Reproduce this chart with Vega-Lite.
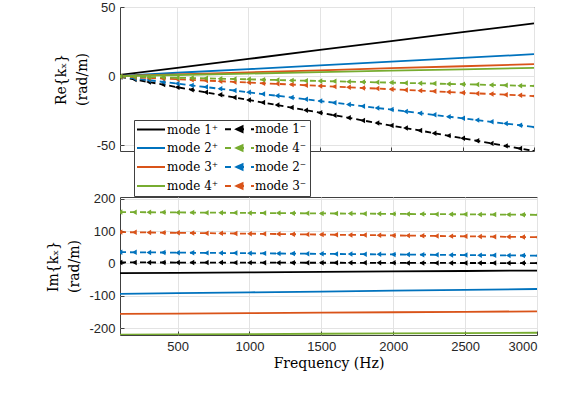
{
  "$schema": "https://vega.github.io/schema/vega-lite/v6.json",
  "autosize": {"type": "none"},
  "padding": {"left": 120, "top": 7, "right": 461, "bottom": 386},
  "bounds": "flush",
  "spacing": 46,
  "background": "white",
  "datasets": {
    "d": [
      {"f": 100, "s": "mode 1⁺", "re": 1.0, "im": -30.0},
      {"f": 500, "s": "mode 1⁺", "re": 6.1, "im": -29.0},
      {"f": 1000, "s": "mode 1⁺", "re": 12.5, "im": -27.6},
      {"f": 1500, "s": "mode 1⁺", "re": 19.0, "im": -26.2},
      {"f": 2000, "s": "mode 1⁺", "re": 25.4, "im": -24.8},
      {"f": 2500, "s": "mode 1⁺", "re": 31.8, "im": -23.4},
      {"f": 3000, "s": "mode 1⁺", "re": 38.2, "im": -22.0},
      {"f": 100, "s": "mode 2⁺", "re": 0.3, "im": -94.0},
      {"f": 500, "s": "mode 2⁺", "re": 2.5, "im": -91.9},
      {"f": 1000, "s": "mode 2⁺", "re": 5.1, "im": -89.3},
      {"f": 1500, "s": "mode 2⁺", "re": 7.8, "im": -86.8},
      {"f": 2000, "s": "mode 2⁺", "re": 10.5, "im": -84.2},
      {"f": 2500, "s": "mode 2⁺", "re": 13.2, "im": -81.6},
      {"f": 3000, "s": "mode 2⁺", "re": 15.9, "im": -79.0},
      {"f": 100, "s": "mode 3⁺", "re": 0.2, "im": -156.0},
      {"f": 500, "s": "mode 3⁺", "re": 1.4, "im": -154.9},
      {"f": 1000, "s": "mode 3⁺", "re": 2.8, "im": -153.5},
      {"f": 1500, "s": "mode 3⁺", "re": 4.3, "im": -152.1},
      {"f": 2000, "s": "mode 3⁺", "re": 5.8, "im": -150.8},
      {"f": 2500, "s": "mode 3⁺", "re": 7.2, "im": -149.4},
      {"f": 3000, "s": "mode 3⁺", "re": 8.7, "im": -148.0},
      {"f": 100, "s": "mode 4⁺", "re": 0.1, "im": -220.0},
      {"f": 500, "s": "mode 4⁺", "re": 0.9, "im": -219.2},
      {"f": 1000, "s": "mode 4⁺", "re": 1.9, "im": -218.1},
      {"f": 1500, "s": "mode 4⁺", "re": 2.9, "im": -217.1},
      {"f": 2000, "s": "mode 4⁺", "re": 4.0, "im": -216.1},
      {"f": 2500, "s": "mode 4⁺", "re": 5.0, "im": -215.0},
      {"f": 3000, "s": "mode 4⁺", "re": 6.0, "im": -214.0},

      {"f": 100, "s": "mode 1⁻", "re": -0.5, "im": 3.0},
      {"f": 200, "s": "mode 1⁻", "re": -2.3, "im": 2.9},
      {"f": 300, "s": "mode 1⁻", "re": -4.2, "im": 2.9},
      {"f": 400, "s": "mode 1⁻", "re": -6.0, "im": 2.8},
      {"f": 500, "s": "mode 1⁻", "re": -7.9, "im": 2.7},
      {"f": 600, "s": "mode 1⁻", "re": -9.7, "im": 2.7},
      {"f": 700, "s": "mode 1⁻", "re": -11.6, "im": 2.6},
      {"f": 800, "s": "mode 1⁻", "re": -13.4, "im": 2.5},
      {"f": 900, "s": "mode 1⁻", "re": -15.3, "im": 2.4},
      {"f": 1000, "s": "mode 1⁻", "re": -17.1, "im": 2.4},
      {"f": 1100, "s": "mode 1⁻", "re": -19.0, "im": 2.3},
      {"f": 1200, "s": "mode 1⁻", "re": -20.8, "im": 2.2},
      {"f": 1300, "s": "mode 1⁻", "re": -22.6, "im": 2.2},
      {"f": 1400, "s": "mode 1⁻", "re": -24.5, "im": 2.1},
      {"f": 1500, "s": "mode 1⁻", "re": -26.3, "im": 2.0},
      {"f": 1600, "s": "mode 1⁻", "re": -28.2, "im": 2.0},
      {"f": 1700, "s": "mode 1⁻", "re": -30.0, "im": 1.9},
      {"f": 1800, "s": "mode 1⁻", "re": -31.9, "im": 1.8},
      {"f": 1900, "s": "mode 1⁻", "re": -33.7, "im": 1.8},
      {"f": 2000, "s": "mode 1⁻", "re": -35.6, "im": 1.7},
      {"f": 2100, "s": "mode 1⁻", "re": -37.4, "im": 1.6},
      {"f": 2200, "s": "mode 1⁻", "re": -39.2, "im": 1.6},
      {"f": 2300, "s": "mode 1⁻", "re": -41.1, "im": 1.5},
      {"f": 2400, "s": "mode 1⁻", "re": -42.9, "im": 1.4},
      {"f": 2500, "s": "mode 1⁻", "re": -44.8, "im": 1.3},
      {"f": 2600, "s": "mode 1⁻", "re": -46.6, "im": 1.3},
      {"f": 2700, "s": "mode 1⁻", "re": -48.5, "im": 1.2},
      {"f": 2800, "s": "mode 1⁻", "re": -50.3, "im": 1.1},
      {"f": 2900, "s": "mode 1⁻", "re": -52.2, "im": 1.1},
      {"f": 3000, "s": "mode 1⁻", "re": -54.0, "im": 1.0},

      {"f": 100, "s": "mode 2⁻", "re": -0.3, "im": 34.7},
      {"f": 200, "s": "mode 2⁻", "re": -1.6, "im": 34.3},
      {"f": 300, "s": "mode 2⁻", "re": -2.8, "im": 34.0},
      {"f": 400, "s": "mode 2⁻", "re": -4.1, "im": 33.6},
      {"f": 500, "s": "mode 2⁻", "re": -5.3, "im": 33.2},
      {"f": 600, "s": "mode 2⁻", "re": -6.6, "im": 32.9},
      {"f": 700, "s": "mode 2⁻", "re": -7.8, "im": 32.5},
      {"f": 800, "s": "mode 2⁻", "re": -9.1, "im": 32.1},
      {"f": 900, "s": "mode 2⁻", "re": -10.3, "im": 31.8},
      {"f": 1000, "s": "mode 2⁻", "re": -11.6, "im": 31.4},
      {"f": 1100, "s": "mode 2⁻", "re": -12.9, "im": 31.0},
      {"f": 1200, "s": "mode 2⁻", "re": -14.1, "im": 30.6},
      {"f": 1300, "s": "mode 2⁻", "re": -15.4, "im": 30.3},
      {"f": 1400, "s": "mode 2⁻", "re": -16.6, "im": 29.9},
      {"f": 1500, "s": "mode 2⁻", "re": -17.9, "im": 29.5},
      {"f": 1600, "s": "mode 2⁻", "re": -19.1, "im": 29.2},
      {"f": 1700, "s": "mode 2⁻", "re": -20.4, "im": 28.8},
      {"f": 1800, "s": "mode 2⁻", "re": -21.6, "im": 28.4},
      {"f": 1900, "s": "mode 2⁻", "re": -22.9, "im": 28.1},
      {"f": 2000, "s": "mode 2⁻", "re": -24.1, "im": 27.7},
      {"f": 2100, "s": "mode 2⁻", "re": -25.4, "im": 27.3},
      {"f": 2200, "s": "mode 2⁻", "re": -26.7, "im": 27.0},
      {"f": 2300, "s": "mode 2⁻", "re": -27.9, "im": 26.6},
      {"f": 2400, "s": "mode 2⁻", "re": -29.2, "im": 26.2},
      {"f": 2500, "s": "mode 2⁻", "re": -30.4, "im": 25.8},
      {"f": 2600, "s": "mode 2⁻", "re": -31.7, "im": 25.5},
      {"f": 2700, "s": "mode 2⁻", "re": -32.9, "im": 25.1},
      {"f": 2800, "s": "mode 2⁻", "re": -34.2, "im": 24.7},
      {"f": 2900, "s": "mode 2⁻", "re": -35.4, "im": 24.4},
      {"f": 3000, "s": "mode 2⁻", "re": -36.7, "im": 24.0},

      {"f": 100, "s": "mode 3⁻", "re": -0.2, "im": 96.6},
      {"f": 200, "s": "mode 3⁻", "re": -0.7, "im": 96.1},
      {"f": 300, "s": "mode 3⁻", "re": -1.2, "im": 95.5},
      {"f": 400, "s": "mode 3⁻", "re": -1.7, "im": 95.0},
      {"f": 500, "s": "mode 3⁻", "re": -2.1, "im": 94.4},
      {"f": 600, "s": "mode 3⁻", "re": -2.6, "im": 93.9},
      {"f": 700, "s": "mode 3⁻", "re": -3.1, "im": 93.4},
      {"f": 800, "s": "mode 3⁻", "re": -3.6, "im": 92.8},
      {"f": 900, "s": "mode 3⁻", "re": -4.1, "im": 92.3},
      {"f": 1000, "s": "mode 3⁻", "re": -4.6, "im": 91.8},
      {"f": 1100, "s": "mode 3⁻", "re": -5.1, "im": 91.2},
      {"f": 1200, "s": "mode 3⁻", "re": -5.5, "im": 90.7},
      {"f": 1300, "s": "mode 3⁻", "re": -6.0, "im": 90.1},
      {"f": 1400, "s": "mode 3⁻", "re": -6.5, "im": 89.6},
      {"f": 1500, "s": "mode 3⁻", "re": -7.0, "im": 89.1},
      {"f": 1600, "s": "mode 3⁻", "re": -7.5, "im": 88.5},
      {"f": 1700, "s": "mode 3⁻", "re": -8.0, "im": 88.0},
      {"f": 1800, "s": "mode 3⁻", "re": -8.5, "im": 87.5},
      {"f": 1900, "s": "mode 3⁻", "re": -8.9, "im": 86.9},
      {"f": 2000, "s": "mode 3⁻", "re": -9.4, "im": 86.4},
      {"f": 2100, "s": "mode 3⁻", "re": -9.9, "im": 85.8},
      {"f": 2200, "s": "mode 3⁻", "re": -10.4, "im": 85.3},
      {"f": 2300, "s": "mode 3⁻", "re": -10.9, "im": 84.8},
      {"f": 2400, "s": "mode 3⁻", "re": -11.4, "im": 84.2},
      {"f": 2500, "s": "mode 3⁻", "re": -11.9, "im": 83.7},
      {"f": 2600, "s": "mode 3⁻", "re": -12.4, "im": 83.2},
      {"f": 2700, "s": "mode 3⁻", "re": -12.8, "im": 82.6},
      {"f": 2800, "s": "mode 3⁻", "re": -13.3, "im": 82.1},
      {"f": 2900, "s": "mode 3⁻", "re": -13.8, "im": 81.5},
      {"f": 3000, "s": "mode 3⁻", "re": -14.3, "im": 81.0},

      {"f": 100, "s": "mode 4⁻", "re": -0.1, "im": 158.5},
      {"f": 200, "s": "mode 4⁻", "re": -0.3, "im": 158.2},
      {"f": 300, "s": "mode 4⁻", "re": -0.6, "im": 157.9},
      {"f": 400, "s": "mode 4⁻", "re": -0.8, "im": 157.6},
      {"f": 500, "s": "mode 4⁻", "re": -1.1, "im": 157.3},
      {"f": 600, "s": "mode 4⁻", "re": -1.3, "im": 157.0},
      {"f": 700, "s": "mode 4⁻", "re": -1.5, "im": 156.7},
      {"f": 800, "s": "mode 4⁻", "re": -1.8, "im": 156.4},
      {"f": 900, "s": "mode 4⁻", "re": -2.0, "im": 156.2},
      {"f": 1000, "s": "mode 4⁻", "re": -2.2, "im": 155.9},
      {"f": 1100, "s": "mode 4⁻", "re": -2.5, "im": 155.6},
      {"f": 1200, "s": "mode 4⁻", "re": -2.7, "im": 155.3},
      {"f": 1300, "s": "mode 4⁻", "re": -3.0, "im": 155.0},
      {"f": 1400, "s": "mode 4⁻", "re": -3.2, "im": 154.7},
      {"f": 1500, "s": "mode 4⁻", "re": -3.4, "im": 154.4},
      {"f": 1600, "s": "mode 4⁻", "re": -3.7, "im": 154.1},
      {"f": 1700, "s": "mode 4⁻", "re": -3.9, "im": 153.8},
      {"f": 1800, "s": "mode 4⁻", "re": -4.1, "im": 153.5},
      {"f": 1900, "s": "mode 4⁻", "re": -4.4, "im": 153.2},
      {"f": 2000, "s": "mode 4⁻", "re": -4.6, "im": 152.9},
      {"f": 2100, "s": "mode 4⁻", "re": -4.9, "im": 152.6},
      {"f": 2200, "s": "mode 4⁻", "re": -5.1, "im": 152.3},
      {"f": 2300, "s": "mode 4⁻", "re": -5.3, "im": 152.0},
      {"f": 2400, "s": "mode 4⁻", "re": -5.6, "im": 151.8},
      {"f": 2500, "s": "mode 4⁻", "re": -5.8, "im": 151.5},
      {"f": 2600, "s": "mode 4⁻", "re": -6.0, "im": 151.2},
      {"f": 2700, "s": "mode 4⁻", "re": -6.3, "im": 150.9},
      {"f": 2800, "s": "mode 4⁻", "re": -6.5, "im": 150.6},
      {"f": 2900, "s": "mode 4⁻", "re": -6.8, "im": 150.3},
      {"f": 3000, "s": "mode 4⁻", "re": -7.0, "im": 150.0}
    ]
  },
  "config": {
    "view": {"stroke": "#404040", "strokeWidth": 1},
    "axis": {
      "labelFont": "Liberation Sans",
      "labelFontSize": 13,
      "labelColor": "#262626",
      "titleFont": "DejaVu Serif",
      "titleFontSize": 14,
      "titleFontWeight": "normal",
      "titleColor": "#000000",
      "gridColor": "#e3e3e3",
      "gridWidth": 1,
      "domain": false,
      "ticks": true,
      "tickSize": -4,
      "tickColor": "#404040",
      "labelPadding": 9
    },
    "legend": {
      "labelFont": "DejaVu Serif",
      "labelFontSize": 12,
      "labelColor": "#000000"
    }
  },
  "resolve": {"scale": {"x": "independent", "y": "independent", "color": "independent"}},
  "vconcat": [
    {
      "width": 414,
      "height": 144,
      "data": {"name": "d"},
      "encoding": {
        "x": {"field": "f", "type": "quantitative",
              "scale": {"domain": [100, 3000], "nice": false, "zero": false},
              "axis": {"values": [500, 1000, 1500, 2000, 2500, 3000], "labels": false, "title": null}},
        "y": {"field": "re", "type": "quantitative",
              "scale": {"domain": [-54, 50], "nice": false, "zero": false},
              "axis": {"values": [-50, 0, 50], "title": ["Re{kₓ}", "(rad/m)"], "titlePadding": 7, "titleLineHeight": 21,
                       "labelExpr": "replace(datum.label, '−', '-')"}},
        "color": {"field": "s", "type": "nominal",
                  "scale": {"domain": ["mode 1⁺", "mode 2⁺", "mode 3⁺", "mode 4⁺", "mode 1⁻", "mode 4⁻", "mode 2⁻", "mode 3⁻"],
                            "range": ["#000000", "#0072BD", "#D95319", "#77AC30", "#000000", "#77AC30", "#0072BD", "#D95319"]},
                  "legend": {
                    "orient": "none", "legendX": 14, "legendY": 113, "columns": 2, "title": null,
                    "symbolSize": 100, "symbolStrokeWidth": 2, "labelOffset": 18,
                    "rowPadding": 5, "columnPadding": 2, "padding": 3,
                    "strokeColor": "#404040", "fillColor": "#ffffff",
                    "encode": {
                      "symbols": {
                        "update": {
                          "shape": {"signal": "indexof(datum.value, '⁻') >= 0 ? 'M-1.2,0H0M1,0H2.6M4,0H4.6M1.1,0L2.3,-0.55L2.3,0.55Z' : 'M-1.2,0H4.4'"},
                          "stroke": {"signal": "{'mode 1⁺':'#000000','mode 1⁻':'#000000','mode 2⁺':'#0072BD','mode 2⁻':'#0072BD','mode 3⁺':'#D95319','mode 3⁻':'#D95319','mode 4⁺':'#77AC30','mode 4⁻':'#77AC30'}[datum.value]"},
                          "fill": {"signal": "{'mode 1⁺':'#000000','mode 1⁻':'#000000','mode 2⁺':'#0072BD','mode 2⁻':'#0072BD','mode 3⁺':'#D95319','mode 3⁻':'#D95319','mode 4⁺':'#77AC30','mode 4⁻':'#77AC30'}[datum.value]"},
                          "strokeDash": {"value": []},
                          "opacity": {"value": 1}
                        }
                      }
                    }
                  }}
      },
      "layer": [
        {"transform": [{"filter": "indexof(datum.s, '⁺') >= 0"}],
         "mark": {"type": "line", "strokeWidth": 1.8, "clip": true}},
        {"transform": [{"filter": "indexof(datum.s, '⁻') >= 0"}],
         "mark": {"type": "line", "strokeWidth": 1.8, "strokeDash": [6, 4], "clip": true}},
        {"transform": [{"filter": "indexof(datum.s, '⁻') >= 0"}],
         "mark": {"type": "point", "shape": "triangle-left", "filled": true, "size": 30, "opacity": 1, "clip": true}}
      ]
    },
    {
      "width": 417,
      "height": 138,
      "data": {"name": "d"},
      "encoding": {
        "x": {"field": "f", "type": "quantitative",
              "scale": {"domain": [100, 3000], "nice": false, "zero": false},
              "axis": {"values": [500, 1000, 1500, 2000, 2500, 3000], "format": "d", "title": "Frequency (Hz)", "titlePadding": 3}},
        "y": {"field": "im", "type": "quantitative",
              "scale": {"domain": [-221, 205], "nice": false, "zero": false},
              "axis": {"values": [-200, -100, 0, 100, 200], "title": ["Im{kₓ}", "(rad/m)"], "titlePadding": 7, "titleLineHeight": 21,
                       "labelExpr": "replace(datum.label, '−', '-')"}},
        "color": {"field": "s", "type": "nominal",
                  "scale": {"domain": ["mode 1⁺", "mode 2⁺", "mode 3⁺", "mode 4⁺", "mode 1⁻", "mode 4⁻", "mode 2⁻", "mode 3⁻"],
                            "range": ["#000000", "#0072BD", "#D95319", "#77AC30", "#000000", "#77AC30", "#0072BD", "#D95319"]},
                  "legend": null}
      },
      "layer": [
        {"transform": [{"filter": "indexof(datum.s, '⁺') >= 0"}],
         "mark": {"type": "line", "strokeWidth": 1.8, "clip": true}},
        {"transform": [{"filter": "indexof(datum.s, '⁻') >= 0"}],
         "mark": {"type": "line", "strokeWidth": 1.8, "strokeDash": [6, 4], "clip": true}},
        {"transform": [{"filter": "indexof(datum.s, '⁻') >= 0"}],
         "mark": {"type": "point", "shape": "triangle-left", "filled": true, "size": 30, "opacity": 1, "clip": true}}
      ]
    }
  ]
}
